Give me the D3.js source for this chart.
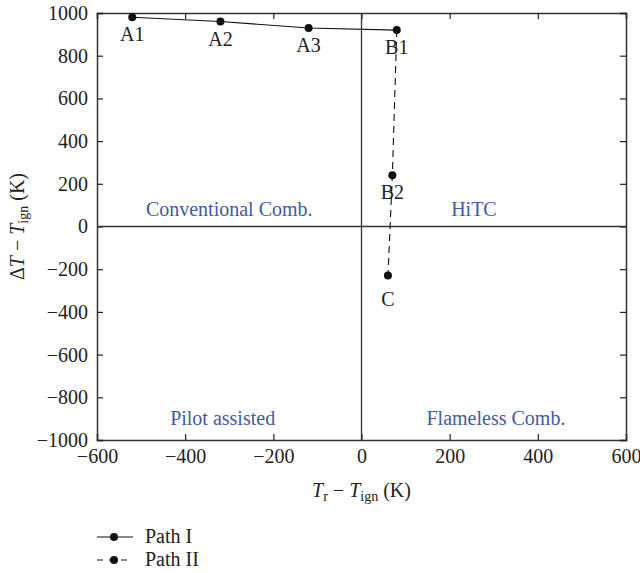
<!DOCTYPE html>
<html>
<head>
<meta charset="utf-8">
<script src="https://cdn.jsdelivr.net/npm/d3@7"></script>
<style>
  html, body { margin: 0; padding: 0; background: #fff; }
  svg { display: block; }
  text { font-family: "Liberation Serif", "Times New Roman", "DejaVu Serif", serif; }
</style>
</head>
<body>
<svg id="chart" width="640" height="573"></svg>
<script>
// Combustion regime path: temperature rise vs. reactant temperature (both relative to ignition)
const pathINames = ["A1", "A2", "A3", "B1"];
const pathIX = [-520, -320, -120, 80];
const pathIY = [980, 960, 930, 920];

const pathIINames = ["B1", "B2", "C"];
const pathIIX = [80, 70, 60];
const pathIIY = [920, 240, -230];

const xTicks = [-600, -400, -200, 0, 200, 400, 600];
const yTicks = [-1000, -800, -600, -400, -200, 0, 200, 400, 600, 800, 1000];

const regionNames = ["Conventional Comb.", "HiTC", "Pilot assisted", "Flameless Comb."];
const regionX = [-300, 255, -315, 305];
const regionY = [50, 50, -930, -930];

const legendNames = ["Path I", "Path II"];

const svg = d3.select("#chart");
const margin = { left: 97, right: 14, top: 13, bottom: 133 };
const W = 640, H = 573;
const x = d3.scaleLinear().domain([-600, 600]).range([margin.left, W - margin.right]);
const y = d3.scaleLinear().domain([-1000, 1000]).range([H - margin.bottom, margin.top]);

const frameColor = "#333";
const fs = 20;
const serif = "'Liberation Serif', 'Times New Roman', 'DejaVu Serif', serif";

// Axes with inward ticks on all four sides
const tk = 6;
const fmt = d => d < 0 ? "\u2212" + Math.abs(d) : String(d);
const gB = svg.append("g").attr("transform", `translate(0,${y(-1000)})`)
  .call(d3.axisBottom(x).tickValues(xTicks).tickSize(-tk).tickPadding(9).tickFormat(fmt));
const gT = svg.append("g").attr("transform", `translate(0,${y(1000)})`)
  .call(d3.axisTop(x).tickValues(xTicks).tickSize(-tk).tickFormat(""));
const gL = svg.append("g").attr("transform", `translate(${x(-600)},0)`)
  .call(d3.axisLeft(y).tickValues(yTicks).tickSize(-tk).tickPadding(9).tickFormat(fmt));
const gR = svg.append("g").attr("transform", `translate(${x(600)},0)`)
  .call(d3.axisRight(y).tickValues(yTicks).tickSize(-tk).tickFormat(""));
[gB, gT, gL, gR].forEach(g => {
  g.attr("font-family", serif);
  g.select(".domain").attr("stroke", frameColor).attr("stroke-width", 1.5);
  g.selectAll(".tick line").attr("stroke", "#222").attr("stroke-width", 1.2);
  g.selectAll(".tick text").attr("fill", "#222").style("font-size", fs + "px");
});

// Quadrant dividers at zero
svg.append("line").attr("x1", x(-600)).attr("x2", x(600)).attr("y1", y(0)).attr("y2", y(0))
  .attr("stroke", frameColor).attr("stroke-width", 1.3);
svg.append("line").attr("x1", x(0)).attr("x2", x(0)).attr("y1", y(-1000)).attr("y2", y(1000))
  .attr("stroke", frameColor).attr("stroke-width", 1.3);

// Regime labels
svg.append("g").selectAll("text").data(regionNames).join("text")
  .attr("x", (d, i) => x(regionX[i])).attr("y", (d, i) => y(regionY[i]))
  .attr("text-anchor", "middle").attr("fill", "#3f5aa8").style("font-size", fs + "px")
  .text(d => d);

// Paths
const line = d3.line().x(d => x(d[0])).y(d => y(d[1]));
const p1 = pathIX.map((v, i) => [v, pathIY[i]]);
const p2 = pathIIX.map((v, i) => [v, pathIIY[i]]);

svg.append("path").attr("d", line(p2)).attr("fill", "none").attr("stroke", "#111")
  .attr("stroke-width", 1.1).attr("stroke-dasharray", "7,5");
svg.append("path").attr("d", line(p1)).attr("fill", "none").attr("stroke", "#111")
  .attr("stroke-width", 1.1);

const pts = p1.concat(p2.slice(1));
const names = pathINames.concat(pathIINames.slice(1));
svg.append("g").selectAll("circle").data(pts).join("circle")
  .attr("cx", d => x(d[0])).attr("cy", d => y(d[1])).attr("r", 4).attr("fill", "#111");
svg.append("g").selectAll("text").data(pts).join("text")
  .attr("x", d => x(d[0])).attr("y", (d, i) => y(d[1]) + (names[i] === "C" ? 30 : 24))
  .attr("text-anchor", "middle").attr("fill", "#222").style("font-size", fs + "px")
  .text((d, i) => names[i]);

// Axis titles
const xt = svg.append("text").attr("x", x(0)).attr("y", 497).attr("text-anchor", "middle")
  .attr("fill", "#222").style("font-size", fs + "px");
xt.append("tspan").attr("font-style", "italic").text("T");
xt.append("tspan").attr("dy", 4).style("font-size", "14px").text("r");
xt.append("tspan").attr("dy", -4).text(" \u2212 ");
xt.append("tspan").attr("font-style", "italic").text("T");
xt.append("tspan").attr("dy", 4).style("font-size", "14px").text("ign");
xt.append("tspan").attr("dy", -4).text(" (K)");

const yt = svg.append("text").attr("transform", `translate(24,${y(0)}) rotate(-90)`)
  .attr("text-anchor", "middle").attr("fill", "#222").style("font-size", fs + "px");
yt.append("tspan").text("\u0394");
yt.append("tspan").attr("font-style", "italic").text("T");
yt.append("tspan").text(" \u2212 ");
yt.append("tspan").attr("font-style", "italic").text("T");
yt.append("tspan").attr("dy", 4).style("font-size", "14px").text("ign");
yt.append("tspan").attr("dy", -4).text(" (K)");

// Legend
const lg = svg.append("g").selectAll("g").data(legendNames).join("g")
  .attr("transform", (d, i) => `translate(97,${537 + i * 23})`);
lg.append("line").attr("x1", 0).attr("x2", 36).attr("y1", 0).attr("y2", 0)
  .attr("stroke", "#111").attr("stroke-width", 1.1)
  .attr("stroke-dasharray", (d, i) => i === 0 ? null : "6,6");
lg.append("circle").attr("cx", 17).attr("cy", 0).attr("r", 4).attr("fill", "#111");
lg.append("text").attr("x", 48).attr("y", 6).attr("fill", "#222").style("font-size", fs + "px")
  .text(d => d);
</script>
</body>
</html>
